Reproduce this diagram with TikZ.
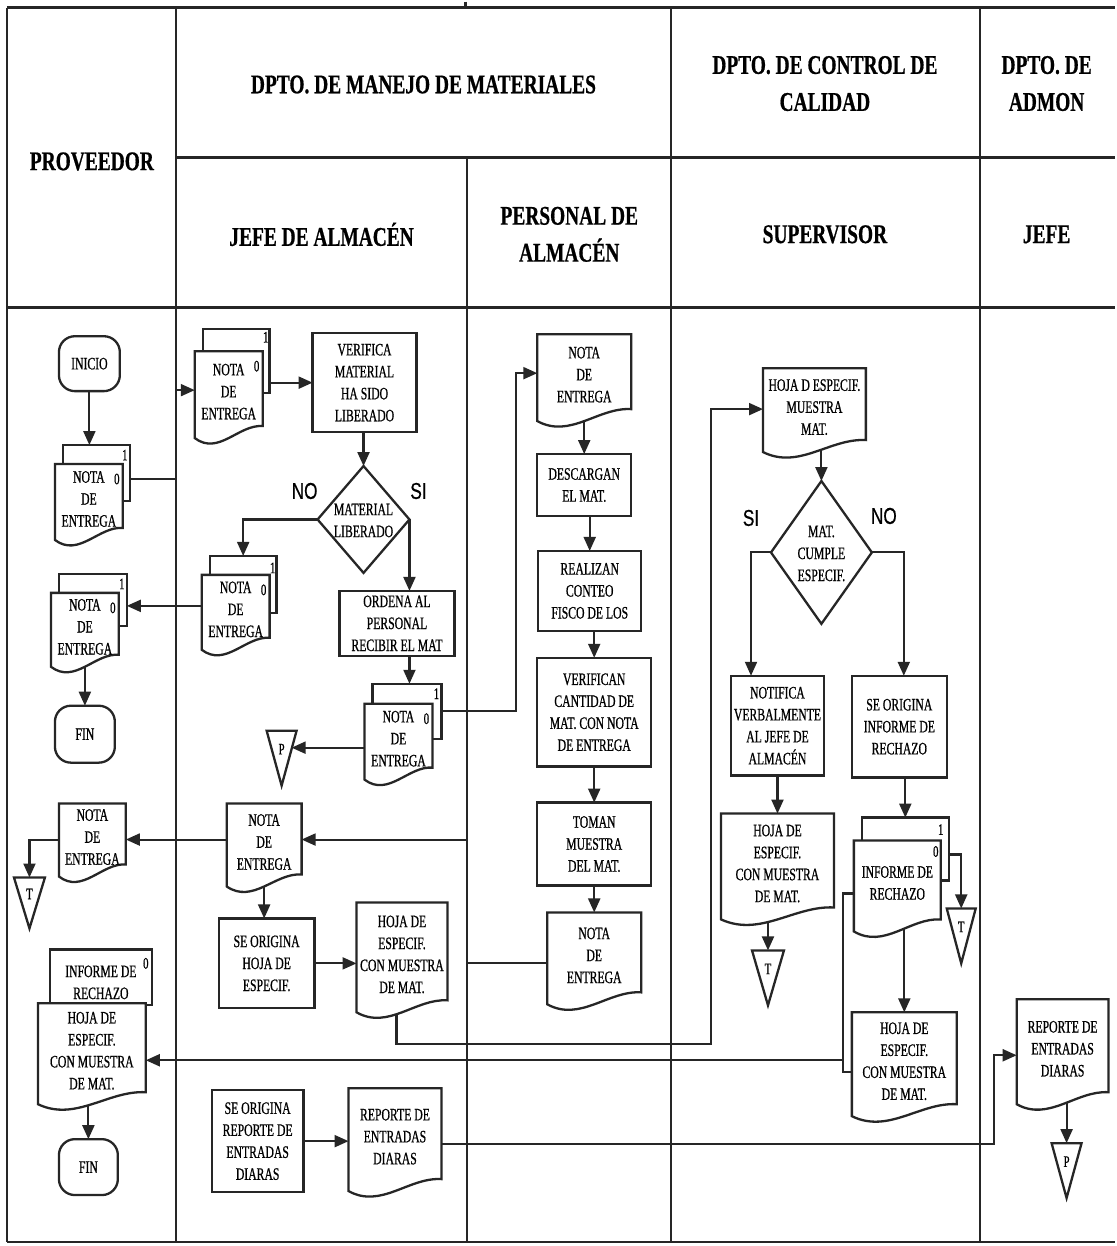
\documentclass[tikz,border=0pt]{standalone}
\usepackage{fontspec}
\setmainfont{Liberation Serif}
\newfontfamily\bodyf[FakeStretch=0.67,FakeBold=0.7]{Liberation Serif}
\newfontfamily\headf[FakeStretch=0.72,FakeBold=0.6]{Liberation Serif}
\newfontfamily\labf[FakeStretch=0.75,FakeBold=0.6]{Liberation Sans}
\usetikzlibrary{arrows.meta,calc}
\pgfdeclarelayer{lanes}\pgfdeclarelayer{conn}\pgfdeclarelayer{shapes}
\pgfsetlayers{lanes,conn,shapes,main}
\newcommand\bodytxt{\bodyf\fontsize{17.5}{22}\selectfont}
\tikzset{
 lane/.style={line width=2.2pt, draw=black!85},
 hline/.style={line width=3.3pt, draw=black!85},
 shp/.style={line width=2.3pt, fill=white, draw=black!85},
 conn/.style={line width=2.1pt, draw=black!85},
 arr/.style={conn, -{Triangle[length=14pt,width=12pt]}},
 box/.style={rectangle, draw=none, inner sep=0pt, outer sep=0pt},
 sheetst/.style={rectangle, draw=black!85, fill=white, line width=2.3pt, inner sep=0pt, outer sep=0pt},
 proc/.style={rectangle, draw=black!85, fill=white, line width=2.3pt, inner sep=0pt, outer sep=0pt, align=center, font=\bodytxt},
 term/.style={proc, rounded corners=16pt},
 txt/.style={align=center, inner sep=0pt, font=\bodytxt},
 dig/.style={inner sep=0pt, font=\bodyf\fontsize{16}{16}\selectfont},
 head/.style={align=center, inner sep=0pt, font=\headf\bfseries\fontsize{27}{37}\selectfont},
 yn/.style={inner sep=0pt, font=\labf\fontsize{23}{23}\selectfont},
 trit/.style={inner sep=0pt, font=\bodyf\fontsize{16}{16}\selectfont}
}
% document shape outline
\newcommand\docout[1]{%
 \begin{pgfonlayer}{shapes}
 \draw[shp] (#1.north west) -- (#1.north east) -- ([yshift=18pt]#1.south east)
   .. controls ($(#1.south west)!0.65!(#1.south east)+(0pt,20pt)$) and ($(#1.south west)!0.35!(#1.south east)+(0pt,-12pt)$) .. ([yshift=6pt]#1.south west) -- cycle;
 \end{pgfonlayer}}
\newcommand\docnode[6]{%
 \node[box, minimum width=#4pt, minimum height=#5pt] (#1) at (#2,#3) {};
 \node[txt] (#1t) at ([yshift=6pt]#1.center) {#6};
 \docout{#1}}
\newcommand\sheet[5]{%
 \begin{pgfonlayer}{shapes}
 \node[sheetst, minimum width=#4pt, minimum height=#5pt] (#1) at (#2,#3) {};
 \end{pgfonlayer}}
\newcommand\trinode[6]{%
 \node[box, minimum width=#4pt, minimum height=#5pt] (#1) at (#2,#3) {};
 \begin{pgfonlayer}{shapes}
 \draw[shp] (#1.north west) -- (#1.north east) -- (#1.south) -- cycle;
 \end{pgfonlayer}
 \node[trit] (#1t) at ([yshift=9pt]#1.center) {#6};}
\newcommand\dianode[6]{%
 \node[box, minimum width=#4pt, minimum height=#5pt] (#1) at (#2,#3) {};
 \begin{pgfonlayer}{shapes}
 \draw[shp] (#1.north) -- (#1.east) -- (#1.south) -- (#1.west) -- cycle;
 \end{pgfonlayer}
 \node[txt] (#1t) at ([yshift=-1pt]#1.center) {#6};}
\begin{document}
\begin{tikzpicture}[x=1pt,y=-1pt]
\begin{pgfonlayer}{lanes}
\fill[white] (0,0) rectangle (1116,1246);
\draw[hline] (7,6) -- (1116,6);
\draw[hline] (176,156) -- (1116,156);
\draw[hline] (7,306) -- (1116,306);
\draw[lane] (7,1242) -- (1116,1242);
\draw[lane] (7,6) -- (7,1242);
\draw[lane] (176,6) -- (176,1242);
\draw[lane] (468,156) -- (468,1242);
\draw[lane] (672,6) -- (672,1242);
\draw[lane] (981,6) -- (981,1242);
\draw[hline] (466,0) -- (466,6);
\end{pgfonlayer}
\useasboundingbox (0,0) rectangle (1116,1246);

% headers
\node[head] (hprov) at (92,160) {PROVEEDOR};
\node[head] (hman) at (424,83) {DPTO. DE MANEJO DE MATERIALES};
\node[head] (hcal) at (826,82) {DPTO. DE CONTROL DE\\CALIDAD};
\node[head] (hadm) at (1048,82) {DPTO. DE\\ADMON};
\node[head] (hjal) at (322,233) {JEFE DE ALMACÉN};
\node[head] (hper) at (570,233) {PERSONAL DE\\ALMACÉN};
\node[head] (hsup) at (826,233) {SUPERVISOR};
\node[head] (hjef) at (1048,233) {JEFE};

% ---- PROVEEDOR
\node[term, minimum width=61pt, minimum height=55pt] (inicio) at (89.5,362.5) {INICIO};
\sheet{pb1}{96.5}{472}{67}{56}
\docnode{pd1}{89}{504}{68}{82}{NOTA\\DE\\ENTREGA}
\node[dig] (pd1z) at ([xshift=-6pt,yshift=-15pt]pd1.north east) {0};
\node[dig] (pb1o) at ([xshift=-5pt,yshift=-10pt]pb1.north east) {1};

\sheet{pb2}{93}{599}{68}{52}
\docnode{pd2}{85}{632}{68}{80}{NOTA\\DE\\ENTREGA}
\node[dig] (pd2z) at ([xshift=-6pt,yshift=-15pt]pd2.north east) {0};
\node[dig] (pb2o) at ([xshift=-5pt,yshift=-10pt]pb2.north east) {1};
\node[term, minimum width=60pt, minimum height=57pt] (fin1) at (85,733.5) {FIN};

\docnode{pd3}{92.5}{842.5}{67}{79}{NOTA\\DE\\ENTREGA}
\trinode{tT1}{29.5}{902.5}{31}{51}{T}

\sheet{pb4}{101}{977}{102}{56}
\begin{pgfonlayer}{shapes}
\node[txt] (pb4t) at ([yshift=-5pt]pb4.center) {INFORME DE\\RECHAZO};
\end{pgfonlayer}
\node[dig] (pb4z) at ([xshift=-6pt,yshift=-14pt]pb4.north east) {0};
\docnode{pd4}{92}{1056.5}{108}{107}{HOJA DE\\ESPECIF.\\CON MUESTRA\\DE MAT.}
\node[term, minimum width=59pt, minimum height=56pt] (fin2) at (88.5,1167) {FIN};

% ---- JEFE DE ALMACEN
\sheet{jb1}{236.5}{360}{67}{64}
\docnode{jd1}{229}{396.5}{68}{93}{NOTA\\DE\\ENTREGA}
\node[dig] (jd1z) at ([xshift=-6pt,yshift=-15pt]jd1.north east) {0};
\node[dig] (jb1o) at ([xshift=-4pt,yshift=-8pt]jb1.north east) {1};
\node[proc, minimum width=104pt, minimum height=99pt] (verif) at (365,381.5) {VERIFICA\\MATERIAL\\HA SIDO\\LIBERADO};
\dianode{dia1}{364}{518.5}{92}{107}{MATERIAL\\LIBERADO}
\node[yn] (no1) at (305,490) {NO};
\node[yn] (si1) at (419,490) {SI};
\sheet{jb2}{243.5}{583.5}{67}{57}
\docnode{jd2}{236}{614.5}{68}{81}{NOTA\\DE\\ENTREGA}
\node[dig] (jd2z) at ([xshift=-6pt,yshift=-15pt]jd2.north east) {0};
\node[dig] (jb2o) at ([xshift=-4pt,yshift=-12pt]jb2.north east) {1};
\node[proc, minimum width=115pt, minimum height=65pt] (ordena) at (397.5,622.5) {ORDENA AL\\PERSONAL\\RECIBIR EL MAT};
\sheet{jb3}{407.5}{710.5}{69}{55}
\docnode{jd3}{399}{744}{68}{82}{NOTA\\DE\\ENTREGA}
\node[dig] (jd3z) at ([xshift=-6pt,yshift=-15pt]jd3.north east) {0};
\node[dig] (jb3o) at ([xshift=-5pt,yshift=-10pt]jb3.north east) {1};
\trinode{tP1}{282}{757.5}{30}{55}{P}
\coordinate (tP1r) at (292,747);
\docnode{jd4}{264.5}{847.5}{75}{89}{NOTA\\DE\\ENTREGA}
\node[proc, minimum width=96pt, minimum height=90pt] (seoh) at (267,963) {SE ORIGINA\\HOJA DE\\ESPECIF.};
\docnode{jd5}{402.5}{960}{91}{116}{HOJA DE\\ESPECIF.\\CON MUESTRA\\DE MAT.}
\node[proc, minimum width=92pt, minimum height=102pt] (serep) at (258,1141) {SE ORIGINA\\REPORTE DE\\ENTRADAS\\DIARAS};
\docnode{jd6}{395.5}{1142.5}{93}{109}{REPORTE DE\\ENTRADAS\\DIARAS}

% ---- PERSONAL DE ALMACEN
\docnode{pe1}{585}{379.5}{94}{93}{NOTA\\DE\\ENTREGA}
\node[proc, minimum width=94pt, minimum height=62pt] (desc) at (585,484) {DESCARGAN\\EL MAT.};
\node[proc, minimum width=103pt, minimum height=80pt] (real) at (590.5,590) {REALIZAN\\CONTEO\\FISCO DE LOS};
\node[proc, minimum width=114pt, minimum height=109pt] (verifc) at (595,711.5) {VERIFICAN\\CANTIDAD DE\\MAT. CON NOTA\\DE ENTREGA};
\node[proc, minimum width=114pt, minimum height=83pt] (toman) at (595,843.5) {TOMAN\\MUESTRA\\DEL MAT.};
\docnode{pe2}{595}{961}{94}{98}{NOTA\\DE\\ENTREGA}

% ---- SUPERVISOR
\docnode{sd1}{815.5}{412}{103}{90}{HOJA D ESPECIF.\\MUESTRA\\MAT.}
\dianode{dia2}{822.5}{551.5}{101}{143}{MAT.\\CUMPLE\\ESPECIF.}
\node[yn] (si2) at (752,517) {SI};
\node[yn] (no2) at (885,515) {NO};
\node[proc, minimum width=93pt, minimum height=100pt] (notif) at (778.5,725) {NOTIFICA\\VERBALMENTE\\AL JEFE DE\\ALMACÉN};
\node[proc, minimum width=95pt, minimum height=102pt] (seinf) at (900.5,726) {SE ORIGINA\\INFORME DE\\RECHAZO};
\docnode{sd2}{778.5}{869}{113}{112}{HOJA DE\\ESPECIF.\\CON MUESTRA\\DE MAT.}
\trinode{tT2}{769}{977.5}{32}{55}{T}
\sheet{sb3}{906.5}{848.5}{87}{63}
\docnode{sd3}{898.5}{888.5}{87}{97}{INFORME DE\\RECHAZO}
\node[dig] (sd3z) at ([xshift=-5pt,yshift=-11pt]sd3.north east) {0};
\node[dig] (sb3o) at ([xshift=-8pt,yshift=-12pt]sb3.north east) {1};
\trinode{tT3}{962.5}{935.5}{29}{55}{T}
\docnode{sd4}{905.5}{1067}{105}{110}{HOJA DE\\ESPECIF.\\CON MUESTRA\\DE MAT.}

% ---- ADMON
\docnode{ad1}{1064}{1054.5}{92}{111}{REPORTE DE\\ENTRADAS\\DIARAS}
\trinode{tP2}{1068}{1170.5}{30}{55}{P}

% ---- connectors
\begin{pgfonlayer}{conn}
\draw[arr] (inicio.south) -- (pb1.north -| inicio.south);
\draw[arr] ([yshift=-6pt]pb1.east) -| (176,389) -- (jd1.west |- 176,389);
\draw[arr] (jb1.east |- verif.west) -- (verif.west);
\draw[arr] (verif.south -| dia1.north) -- (dia1.north);
\draw[arr] (dia1.west) -| (jb2.north);
\draw[arr] (dia1.east) -- (dia1.east |- ordena.north);
\draw[arr] (jd2.west |- 0,605) -- (pb2.east |- 0,605);
\draw[arr] (pd2.center) -- (pd2.center |- fin1.north);
\draw[arr] (ordena.south -| 410,0) -- (jb3.north -| 410,0);
\draw[arr] (jb3.east) -| (517,372) -- (pe1.west |- 0,372);
\draw[arr] (jd3.west |- 0,747) -- (tP1r);
\draw[arr] (pe2.west |- 0,963) -| (468,839) -- (jd4.east |- 0,839);
\draw[arr] (jd4.west |- 0,839) -- (pd3.east |- 0,839);
\draw[arr] (pd3.west |- 0,839) -| (tT1.north);
\draw[arr] (jd4.center) -- (jd4.center |- seoh.north);
\draw[arr] (seoh.east) -- (jd5.west |- seoh.east);
\draw[arr] (jd5.center -| 397,0) |- (712,1044) |- (sd1.west |- 0,408);
\draw[arr] (sd3.west |- 0,893) -| (844,1060) -- (pd4.east |- 0,1060);
\draw[conn] (sd4.west |- 0,1072) -| (844,1060);
\draw[arr] (pd4.center -| fin2.north) -- (fin2.north);
\draw[arr] (serep.east) -- (jd6.west |- serep.east);
\draw[arr] (jd6.east |- 0,1144) -| (995,1055) -- (ad1.west |- 0,1055);
\draw[arr] (ad1.center -| tP2.north) -- (tP2.north);
\draw[arr] (pe1.center) -- (desc.north);
\draw[arr] (desc.south -| real.north) -- (real.north);
\draw[arr] (real.south -| verifc.north) -- (verifc.north);
\draw[arr] (verifc.south) -- (toman.north);
\draw[arr] (toman.south) -- (pe2.north);
\draw[arr] (dia2.north |- sd1.center) -- (dia2.north);
\draw[arr] (dia2.west) -| ([xshift=-26.5pt]notif.north);
\draw[arr] (dia2.east) -| ([xshift=4.5pt]seinf.north);
\draw[arr] (notif.south) -- (sd2.north);
\draw[arr] (sd2.center -| tT2.north) -- (tT2.north);
\draw[arr] (seinf.south -| sb3.north) -- (sb3.north);
\draw[arr] (sb3.east |- 0,854) -| (tT3.north);
\draw[arr] (sd3.center -| sd4.north) -- (sd4.north);
\end{pgfonlayer}
\end{tikzpicture}
\end{document}
